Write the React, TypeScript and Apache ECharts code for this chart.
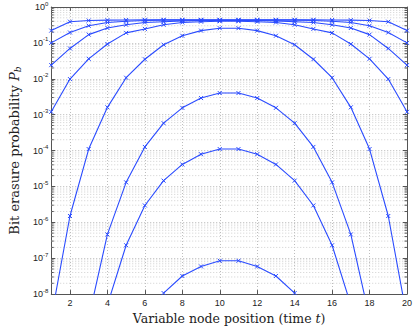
import React, { useEffect, useRef } from 'react';
import * as echarts from 'echarts';

// x positions (variable node position / time t)
const positions = [1, 2, 3, 4, 5, 6, 7, 8, 9, 10, 11, 12, 13, 14, 15, 16, 17, 18, 19, 20];
const xTicks = [2, 4, 6, 8, 10, 12, 14, 16, 18, 20];
const minorMultipliers = [2, 3, 4, 5, 6, 7, 8, 9];
const minorDecades = [-8, -7, -6, -5, -4, -3, -2, -1];

// Bit erasure probability curves (null = below the plot)
const curveA = [0.22, 0.39, 0.42, 0.43, 0.435, 0.44, 0.44, 0.44, 0.44, 0.44, 0.44, 0.44, 0.44, 0.44, 0.44, 0.435, 0.43, 0.42, 0.39, 0.22];
const curveB = [0.10, 0.195, 0.30, 0.37, 0.40, 0.42, 0.43, 0.43, 0.43, 0.43, 0.43, 0.43, 0.43, 0.43, 0.42, 0.40, 0.37, 0.30, 0.195, 0.10];
const curveC = [0.024, 0.07, 0.17, 0.26, 0.32, 0.37, 0.39, 0.41, 0.42, 0.42, 0.42, 0.42, 0.41, 0.39, 0.37, 0.32, 0.26, 0.17, 0.07, 0.024];
const curveD = [1.2e-3, 9.8e-3, 0.036, 0.093, 0.19, 0.245, 0.32, 0.37, 0.39, 0.40, 0.40, 0.39, 0.37, 0.32, 0.245, 0.19, 0.093, 0.036, 9.8e-3, 1.2e-3];
const curveE = [2.2e-9, 1.5e-6, 1.1e-4, 1.6e-3, 0.0107, 0.035, 0.089, 0.158, 0.22, 0.257, 0.257, 0.22, 0.158, 0.089, 0.035, 0.0107, 1.6e-3, 1.1e-4, 1.5e-6, 2.2e-9];
const curveF = [null, null, 2.2e-9, 4.6e-7, 1.3e-5, 1.26e-4, 5.8e-4, 1.55e-3, 2.9e-3, 4.0e-3, 4.0e-3, 2.9e-3, 1.55e-3, 5.8e-4, 1.26e-4, 1.3e-5, 4.6e-7, 2.2e-9, null, null];
const curveG = [null, null, null, 5.0e-9, 2.3e-7, 2.95e-6, 1.45e-5, 4.1e-5, 7.9e-5, 1.1e-4, 1.1e-4, 7.9e-5, 4.1e-5, 1.45e-5, 2.95e-6, 2.3e-7, 5.0e-9, null, null, null];
const curveH = [null, null, null, null, null, null, 1.07e-8, 3.2e-8, 5.9e-8, 8.5e-8, 8.5e-8, 5.9e-8, 3.2e-8, 1.07e-8, null, null, null, null, null, null];

const curves = [curveA, curveB, curveC, curveD, curveE, curveF, curveG, curveH];

const LINE_COLOR = '#2a4bff';
const AXIS_COLOR = '#555555';
const GRID_COLOR = '#bdbdbd';
const MINOR_GRID_COLOR = '#cfcfcf';

export default function App() {
  const ref = useRef<HTMLDivElement>(null);

  useEffect(() => {
    if (!ref.current) return;
    const chart = echarts.init(ref.current, null, { renderer: 'svg' });

    const minorTicks: number[] = [];
    minorDecades.forEach((d) => minorMultipliers.forEach((m) => minorTicks.push(m * Math.pow(10, d))));

    const tickLabelStyle = {
      fontFamily: 'Liberation Sans, Arial, sans-serif',
      fontSize: 9,
      color: '#222',
    };

    const lineSeries = curves.map((c, k) => ({
      type: 'line',
      name: 'c' + k,
      data: positions.map((x, i) => [x, c[i]]),
      symbol: 'path://M0,0L10,10M10,0L0,10',
      symbolSize: 4,
      showSymbol: true,
      connectNulls: false,
      clip: true,
      lineStyle: { color: LINE_COLOR, width: 1.1 },
      itemStyle: { color: LINE_COLOR, borderColor: LINE_COLOR, borderWidth: 1 },
      z: 3,
      silent: true,
    }));

    const option: any = {
      animation: false,
      grid: { left: 34.5, top: 7, right: 8, bottom: 33, containLabel: false },
      xAxis: [
        {
          type: 'value',
          min: 1,
          max: 20,
          position: 'bottom',
          name: 'Variable node position (time {i|t})',
          nameLocation: 'middle',
          nameGap: 14,
          nameTextStyle: {
            fontFamily: 'DejaVu Serif, serif',
            fontSize: 12.5,
            color: '#222',
            rich: { i: { fontFamily: 'DejaVu Serif, serif', fontStyle: 'italic', fontSize: 12.5, color: '#222' } },
          },
          axisLine: { show: true, onZero: false, lineStyle: { color: AXIS_COLOR, width: 1 } },
          axisTick: { show: true, inside: true, length: 4, customValues: xTicks, lineStyle: { color: AXIS_COLOR } },
          axisLabel: { show: true, customValues: xTicks, margin: 4, ...tickLabelStyle },
          splitLine: { show: true, lineStyle: { color: GRID_COLOR, type: [1, 2], width: 1 } },
        },
        {
          type: 'value',
          min: 1,
          max: 20,
          position: 'top',
          axisLine: { show: true, onZero: false, lineStyle: { color: AXIS_COLOR, width: 1 } },
          axisTick: { show: true, inside: true, length: 4, customValues: xTicks, lineStyle: { color: AXIS_COLOR } },
          axisLabel: { show: false },
          splitLine: { show: false },
        },
      ],
      yAxis: [
        {
          type: 'log',
          logBase: 10,
          min: 1e-8,
          max: 1,
          position: 'left',
          name: 'Bit erasure probability {i|P}{s|b}',
          nameLocation: 'middle',
          nameGap: 19,
          nameTextStyle: {
            fontFamily: 'DejaVu Serif, serif',
            fontSize: 13,
            color: '#222',
            rich: {
              i: { fontFamily: 'DejaVu Serif, serif', fontStyle: 'italic', fontSize: 13, color: '#222' },
              s: { fontFamily: 'DejaVu Serif, serif', fontStyle: 'italic', fontSize: 9, color: '#222', padding: [6, 0, 0, 0] },
            },
          },
          axisLine: { show: true, onZero: false, lineStyle: { color: AXIS_COLOR, width: 1 } },
          axisTick: { show: true, inside: true, length: 4, lineStyle: { color: AXIS_COLOR } },
          axisLabel: {
            show: true,
            margin: 3,
            formatter: (v: number) => '{b|10}{e|' + Math.round(Math.log10(v)) + '}',
            rich: {
              b: { ...tickLabelStyle },
              e: { ...tickLabelStyle, fontSize: 6, padding: [0, 0, 7, 0] },
            },
          },
          splitLine: { show: true, lineStyle: { color: GRID_COLOR, type: [1, 2], width: 1 } },
        },
        {
          type: 'log',
          logBase: 10,
          min: 1e-8,
          max: 1,
          position: 'right',
          axisLine: { show: true, onZero: false, lineStyle: { color: AXIS_COLOR, width: 1 } },
          axisTick: { show: true, inside: true, length: 4, lineStyle: { color: AXIS_COLOR } },
          axisLabel: { show: false },
          splitLine: { show: false },
        },
      ],
      series: [
        {
          type: 'custom',
          xAxisIndex: 0,
          yAxisIndex: 0,
          silent: true,
          clip: false,
          z: 1,
          data: minorTicks.map((v) => [1, v]),
          encode: { x: 0, y: 1 },
          renderItem: (params: any, api: any) => {
            const v = api.value(1);
            const pt = api.coord([1, v]);
            const cs = params.coordSys;
            const y = pt[1];
            return {
              type: 'group',
              children: [
                {
                  type: 'line',
                  shape: { x1: cs.x, y1: y, x2: cs.x + cs.width, y2: y },
                  style: { stroke: MINOR_GRID_COLOR, lineWidth: 1, lineDash: [1, 2] },
                },
                {
                  type: 'line',
                  shape: { x1: cs.x, y1: y, x2: cs.x + 2.5, y2: y },
                  style: { stroke: AXIS_COLOR, lineWidth: 1 },
                },
                {
                  type: 'line',
                  shape: { x1: cs.x + cs.width - 2.5, y1: y, x2: cs.x + cs.width, y2: y },
                  style: { stroke: AXIS_COLOR, lineWidth: 1 },
                },
              ],
            };
          },
        },
        ...lineSeries,
      ],
    };

    chart.setOption(option);
    return () => chart.dispose();
  }, []);

  return (
    <div
      ref={ref}
      style={{ position: 'fixed', left: 0, top: 0, width: 415, height: 330, background: '#fff' }}
    />
  );
}
